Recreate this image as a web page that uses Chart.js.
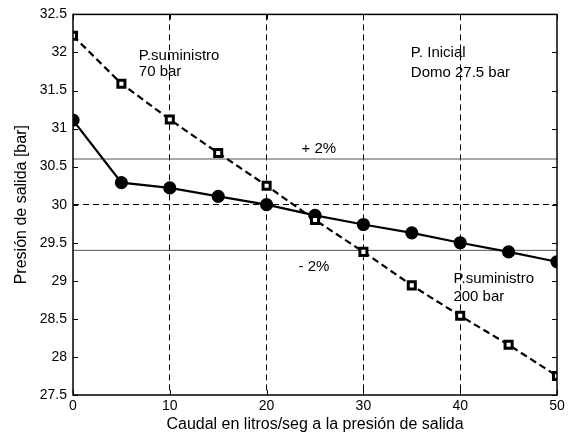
<!DOCTYPE html>
<html>
<head>
<meta charset="utf-8">
<script src="https://cdn.jsdelivr.net/npm/chart.js@4.4.0/dist/chart.umd.min.js"></script>
<style>
  html, body { margin: 0; padding: 0; background: #fff; }
  #wrap { width: 576px; height: 437px; }
</style>
</head>
<body>
<div id="wrap"><canvas id="presion"></canvas></div>
<script>
'use strict'
// caudal en litros/seg
var caudal = [0, 5, 10, 15, 20, 25, 30, 35, 40, 45, 50];
// presion de salida, suministro 70 bar (linea discontinua, cuadrados)
var presion70 = [32.22, 31.59, 31.12, 30.68, 30.25, 29.80, 29.38, 28.94, 28.54, 28.16, 27.75];
// presion de salida, suministro 200 bar (linea continua, circulos)
var presion200 = [31.11, 30.29, 30.22, 30.11, 30.00, 29.86, 29.74, 29.63, 29.50, 29.38, 29.25];
// bandas +/- 2% alrededor de 30 bar
var bandas = [30.6, 29.4];
var nominal = 30;
var xTicks = [0, 10, 20, 30, 40, 50];
var yTicks = [27.5, 28, 28.5, 29, 29.5, 30, 30.5, 31, 31.5, 32, 32.5];
// textos del grafico en coordenadas de datos
var notas = [
    { text: 'P.suministro', x: 6.8, y: 31.96 },
    { text: '70 bar', x: 6.8, y: 31.74 },
    { text: 'P. Inicial', x: 34.9, y: 31.99 },
    { text: 'Domo 27.5 bar', x: 34.9, y: 31.73 },
    { text: '+ 2%', x: 23.6, y: 30.74 },
    { text: '- 2%', x: 23.3, y: 29.18 },
    { text: 'P.suministro', x: 39.3, y: 29.02 },
    { text: '200 bar', x: 39.3, y: 28.79 }
];

function toPoints(xs, ys) {
    return xs.map(function (x, i) { return { x: x, y: ys[i] }; });
}

Chart.defaults.font.family = '"Liberation Sans", Arial, sans-serif';
Chart.defaults.font.size = 14;
Chart.defaults.color = '#000';

/* marco, marcas interiores y textos */
var marcoPlugin = {
    id: 'marco',
    afterDatasetsDraw: function (chart) {
        var c = chart.ctx, a = chart.chartArea;
        var sx = chart.scales.x, sy = chart.scales.y;
        c.save();
        c.strokeStyle = '#000';
        c.lineWidth = 1;
        c.setLineDash([]);
        c.beginPath();
        xTicks.forEach(function (v) {
            var px = Math.round(sx.getPixelForValue(v)) + 0.5;
            c.moveTo(px, a.bottom); c.lineTo(px, a.bottom - 5);
            c.moveTo(px, a.top); c.lineTo(px, a.top + 5);
        });
        yTicks.forEach(function (v) {
            var py = Math.round(sy.getPixelForValue(v)) + 0.5;
            c.moveTo(a.left, py); c.lineTo(a.left + 5, py);
            c.moveTo(a.right, py); c.lineTo(a.right - 5, py);
        });
        c.stroke();
        c.lineWidth = 1.5;
        c.strokeRect(a.left, a.top, a.right - a.left, a.bottom - a.top);
        c.fillStyle = '#000';
        c.font = '15px "Liberation Sans", Arial, sans-serif';
        c.textAlign = 'left';
        c.textBaseline = 'middle';
        notas.forEach(function (n) {
            c.fillText(n.text, sx.getPixelForValue(n.x), sy.getPixelForValue(n.y));
        });
        c.restore();
    }
};

var ctx = document.getElementById('presion').getContext('2d');
var presionChart = new Chart(ctx, {
    type: 'line',
    data: {
        datasets: [{
            label: '+2%',
            data: toPoints([0, 50], [bandas[0], bandas[0]]),
            borderColor: '#555',
            borderWidth: 1,
            pointRadius: 0,
            order: 3
        }, {
            label: '-2%',
            data: toPoints([0, 50], [bandas[1], bandas[1]]),
            borderColor: '#555',
            borderWidth: 1,
            pointRadius: 0,
            order: 3
        }, {
            label: 'P.suministro 70 bar',
            data: toPoints(caudal, presion70),
            borderColor: '#000',
            borderWidth: 2.2,
            borderDash: [7, 4],
            pointStyle: 'rect',
            pointRadius: 5,
            pointBackgroundColor: '#fff',
            pointBorderColor: '#000',
            pointBorderWidth: 3,
            tension: 0,
            order: 1
        }, {
            label: 'P.suministro 200 bar',
            data: toPoints(caudal, presion200),
            borderColor: '#000',
            borderWidth: 2.2,
            pointStyle: 'circle',
            pointRadius: 5.5,
            pointBackgroundColor: '#000',
            pointBorderColor: '#000',
            tension: 0,
            order: 2
        }]
    },
    options: {
        responsive: true,
        maintainAspectRatio: false,
        animation: false,
        layout: { padding: { left: 0, right: 19, top: 14, bottom: 0 } },
        plugins: {
            legend: { display: false },
            tooltip: { enabled: false }
        },
        scales: {
            x: {
                type: 'linear',
                min: 0,
                max: 50,
                afterBuildTicks: function (s) { s.ticks = xTicks.map(function (v) { return { value: v }; }); },
                ticks: { padding: 3, callback: function (v) { return String(v); }, autoSkip: false, maxRotation: 0 },
                grid: {
                    drawTicks: false,
                    color: function (c) { return (c.tick && c.tick.value > 0 && c.tick.value < 50) ? '#000' : 'rgba(0,0,0,0)'; },
                    lineWidth: 1
                },
                border: { display: false, dash: [6, 4] },
                title: { display: true, text: 'Caudal en litros/seg a la presión de salida', font: { size: 16 }, padding: { top: 0, bottom: 3 } },
                afterFit: function (s) { s.height = 42; }
            },
            y: {
                type: 'linear',
                min: 27.5,
                max: 32.5,
                afterBuildTicks: function (s) { s.ticks = yTicks.map(function (v) { return { value: v }; }); },
                ticks: { padding: 6, callback: function (v) { return String(v); }, autoSkip: false },
                grid: {
                    drawTicks: false,
                    color: function (c) { return (c.tick && c.tick.value === nominal) ? '#000' : 'rgba(0,0,0,0)'; },
                    lineWidth: 1
                },
                border: { display: false, dash: [6, 4] },
                title: { display: true, text: 'Presión de salida [bar]', font: { size: 16 }, padding: { top: 12, bottom: 0 } },
                afterFit: function (s) { s.width = 73; }
            }
        }
    },
    plugins: [marcoPlugin]
});
</script>
</body>
</html>
